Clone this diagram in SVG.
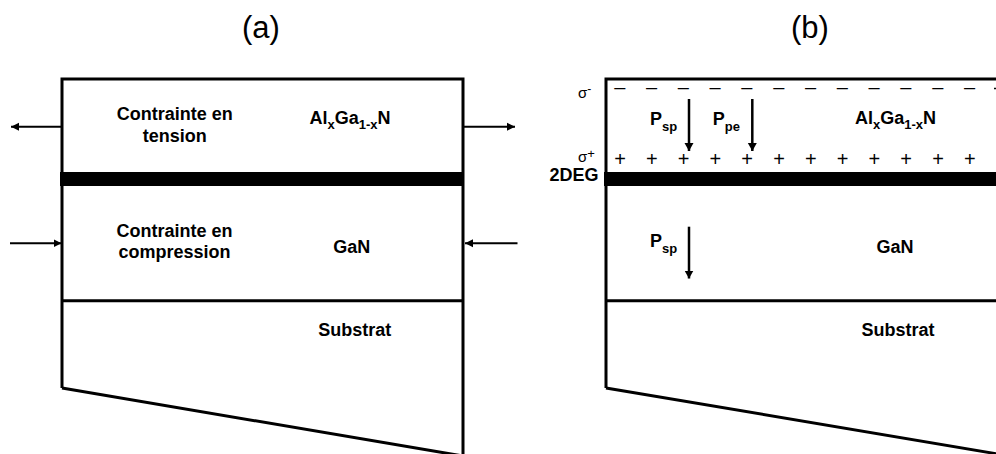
<svg xmlns="http://www.w3.org/2000/svg" width="996" height="454" viewBox="0 0 996 454">
<style>
.b{font-family:"Liberation Sans",Arial,sans-serif;font-weight:bold;font-size:18px;fill:#000}
.r{font-family:"Liberation Sans",Arial,sans-serif;font-size:20px;fill:#000}
.t{font-family:"Liberation Sans",Arial,sans-serif;font-size:31px;fill:#000}
.s{font-family:"Liberation Sans",Arial,sans-serif;font-size:15px;fill:#000}
.ln{fill:none;stroke:#000;stroke-width:3}
.ar{fill:none;stroke:#000;stroke-width:2}
.arv{fill:none;stroke:#000;stroke-width:2.5}
</style>
<defs>
<marker id="ah" markerUnits="userSpaceOnUse" markerWidth="9" markerHeight="9" refX="8" refY="4.5" orient="auto" viewBox="0 0 9 9">
<path d="M0,0.5 L8,4.5 L0,8.5 z" fill="#000"/>
</marker>
<marker id="ahv" markerUnits="userSpaceOnUse" markerWidth="10" markerHeight="10" refX="8" refY="5" orient="auto" viewBox="0 0 10 10">
<path d="M0,0.5 L8,5 L0,9.5 z" fill="#000"/>
</marker>
</defs>
<rect width="996" height="454" fill="#fff"/>

<text class="t" x="261" y="38" text-anchor="middle">(a)</text>
<text class="t" x="810" y="38" text-anchor="middle">(b)</text>

<!-- Panel (a) -->
<g id="panel-a">
<g id="a-outline">
<path class="ln" d="M62,388 L62,79 L463,79 L463,456"/>
<path class="ln" d="M62,388 L463,456"/>
</g>
<g id="a-algan">
<text class="b" x="174.7" y="120" text-anchor="middle">Contrainte en</text>
<text class="b" x="174.7" y="141.7" text-anchor="middle">tension</text>
<text class="b" x="309.5" y="123.5">Al<tspan font-size="13" dy="5">x</tspan><tspan dy="-5">Ga</tspan><tspan font-size="13" dy="5">1-x</tspan><tspan dy="-5">N</tspan></text>
</g>
<rect id="a-interface" x="60" y="172" width="403" height="14" fill="#000"/>
<g id="a-gan">
<text class="b" x="174.5" y="237.3" text-anchor="middle">Contrainte en</text>
<text class="b" x="174.5" y="258.3" text-anchor="middle">compression</text>
<text class="b" x="351.7" y="252.7" text-anchor="middle">GaN</text>
<line class="ln" x1="62" y1="300.7" x2="463" y2="300.7"/>
</g>
<g id="a-substrat">
<text class="b" x="354.7" y="336" text-anchor="middle">Substrat</text>
</g>
</g>

<!-- Panel (b) -->
<g id="panel-b">
<g id="b-outline">
<path class="ln" d="M606,388 L606,79 L996,79"/>
<path class="ln" d="M606,388 L998,454"/>
</g>
<g id="b-algan">
<g class="r" text-anchor="middle">
<text x="619.7" y="94">–</text><text x="651.5" y="94">–</text><text x="683.3" y="94">–</text><text x="715.1" y="94">–</text><text x="746.9" y="94">–</text><text x="778.7" y="94">–</text><text x="810.5" y="94">–</text><text x="842.3" y="94">–</text><text x="874.1" y="94">–</text><text x="905.9" y="94">–</text><text x="937.7" y="94">–</text><text x="969.5" y="94">–</text>
</g>
<line x1="994" y1="88.5" x2="996" y2="88.5" stroke="#000" stroke-width="1.4"/>
<g class="r" text-anchor="middle" font-size="22">
<text x="620" y="165.5">+</text><text x="651.8" y="165.5">+</text><text x="683.6" y="165.5">+</text><text x="715.4" y="165.5">+</text><text x="747.2" y="165.5">+</text><text x="779" y="165.5">+</text><text x="810.8" y="165.5">+</text><text x="842.6" y="165.5">+</text><text x="874.4" y="165.5">+</text><text x="906.2" y="165.5">+</text><text x="938" y="165.5">+</text><text x="969.8" y="165.5">+</text>
</g>
<text class="b" x="650" y="125">P<tspan font-size="13" dy="6">sp</tspan></text>
<text class="b" x="712.7" y="125">P<tspan font-size="13" dy="6">pe</tspan></text>
<text class="b" x="855" y="123.5">Al<tspan font-size="13" dy="5">x</tspan><tspan dy="-5">Ga</tspan><tspan font-size="13" dy="5">1-x</tspan><tspan dy="-5">N</tspan></text>
</g>
<rect id="b-2deg" x="604" y="172" width="392" height="14" fill="#000"/>
<g id="b-labels">
<text class="s" x="578" y="98.3">σ<tspan font-size="12" dy="-5">-</tspan></text>
<text class="s" x="578" y="161.7">σ<tspan font-size="13" dy="-4">+</tspan></text>
<text class="b" x="598.5" y="181" text-anchor="end">2DEG</text>
</g>
<g id="b-gan">
<text class="b" x="650" y="246.7">P<tspan font-size="13" dy="6">sp</tspan></text>
<text class="b" x="895" y="252.7" text-anchor="middle">GaN</text>
<line class="ln" x1="606" y1="300.7" x2="996" y2="300.7"/>
</g>
<g id="b-substrat">
<text class="b" x="898" y="336" text-anchor="middle">Substrat</text>
</g>
</g>

<!-- Connectors (arrows) -->
<g id="connectors">
<line class="ar" x1="62" y1="126.7" x2="11" y2="126.7" marker-end="url(#ah)"/>
<line class="ar" x1="463" y1="126.7" x2="515" y2="126.7" marker-end="url(#ah)"/>
<line class="ar" x1="10" y1="243.3" x2="61.5" y2="243.3" marker-end="url(#ah)"/>
<line class="ar" x1="517.5" y1="243.3" x2="465" y2="243.3" marker-end="url(#ah)"/>
<line class="arv" x1="689" y1="99" x2="689" y2="151" marker-end="url(#ahv)"/>
<line class="arv" x1="752.3" y1="99" x2="752.3" y2="151" marker-end="url(#ahv)"/>
<line class="arv" x1="689" y1="226.7" x2="689" y2="278.5" marker-end="url(#ahv)"/>
</g>
</svg>
